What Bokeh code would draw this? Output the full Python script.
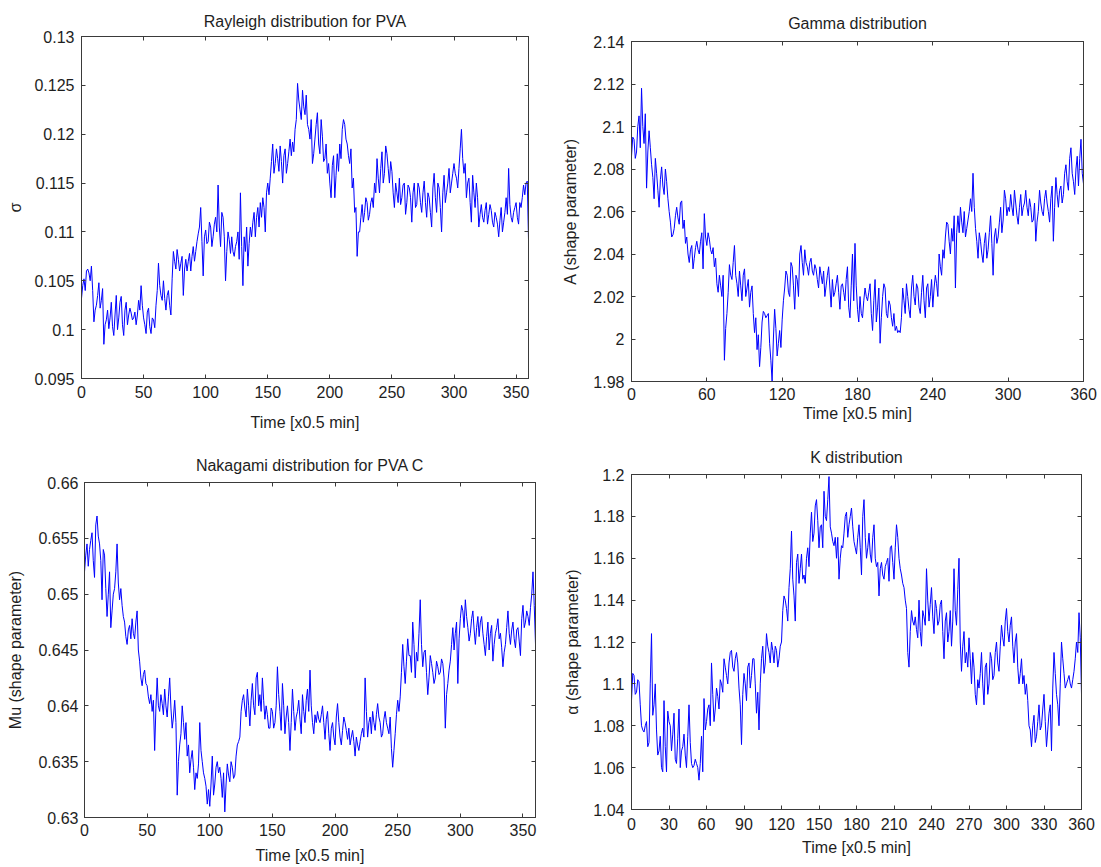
from bokeh.plotting import figure
from bokeh.layouts import column, row
from bokeh.models import Range1d, FixedTicker, LinearAxis
from bokeh.embed import file_html
from bokeh.resources import INLINE

# ---------------- data (one value per time step) ----------------
time_x = list(range(0, 361))

rayleigh_sigma = [
    0.1032, 0.1045, 0.1052, 0.1040, 0.1060, 0.1062, 0.1058, 0.1050, 0.1065, 0.1040,
    0.1008, 0.1020, 0.1025, 0.1035, 0.1048, 0.1022, 0.1030, 0.1042, 0.0985, 0.1005,
    0.1010, 0.1020, 0.1001, 0.1012, 0.1028, 0.1003, 0.0994, 0.1015, 0.1035, 0.1000,
    0.1012, 0.1028, 0.1034, 0.1005, 0.0994, 0.1020, 0.1028, 0.1005, 0.1015, 0.1022,
    0.1017, 0.1010, 0.1012, 0.1018, 0.1005, 0.1015, 0.1030, 0.1020, 0.1045, 0.1025,
    0.1012, 0.1005, 0.0996, 0.1018, 0.1022, 0.1003, 0.0996, 0.1012, 0.1010, 0.1002,
    0.1025, 0.1040, 0.1068, 0.1045, 0.1035, 0.1030, 0.1050, 0.1032, 0.1020, 0.1035,
    0.1040, 0.1025, 0.1015, 0.1052, 0.1080, 0.1070, 0.1062, 0.1082, 0.1072, 0.1060,
    0.1068, 0.1075, 0.1035, 0.1062, 0.1072, 0.1060, 0.1070, 0.1078, 0.1060, 0.1075,
    0.1085, 0.1070, 0.1080, 0.1090, 0.1098, 0.1105, 0.1125, 0.1090, 0.1055, 0.1095,
    0.1102, 0.1088, 0.1090, 0.1110, 0.1105, 0.1085, 0.1095, 0.1108, 0.1115, 0.1100,
    0.1148, 0.1105, 0.1085, 0.1120, 0.1115, 0.1095, 0.1050, 0.1080, 0.1100, 0.1092,
    0.1078, 0.1095, 0.1080, 0.1075, 0.1085, 0.1090, 0.1100, 0.1072, 0.1140, 0.1085,
    0.1045, 0.1095, 0.1080, 0.1105, 0.1065, 0.1088, 0.1105, 0.1095, 0.1110, 0.1120,
    0.1095, 0.1115, 0.1125, 0.1105, 0.1130, 0.1115, 0.1135, 0.1125, 0.1100, 0.1140,
    0.1150, 0.1138, 0.1155, 0.1172, 0.1190, 0.1160, 0.1170, 0.1185, 0.1175, 0.1162,
    0.1188, 0.1172, 0.1150, 0.1178, 0.1185, 0.1160, 0.1170, 0.1182, 0.1195, 0.1178,
    0.1192, 0.1182, 0.1205, 0.1215, 0.1252, 0.1235, 0.1225, 0.1215, 0.1245, 0.1228,
    0.1220, 0.1240, 0.1210, 0.1205, 0.1195, 0.1215, 0.1170, 0.1180, 0.1195, 0.1210,
    0.1222, 0.1190, 0.1180, 0.1215, 0.1198, 0.1172, 0.1175, 0.1190, 0.1160, 0.1170,
    0.1150, 0.1135, 0.1168, 0.1178, 0.1135, 0.1158, 0.1180, 0.1162, 0.1190, 0.1175,
    0.1205, 0.1215, 0.1210, 0.1195, 0.1190, 0.1178, 0.1170, 0.1185, 0.1145, 0.1155,
    0.1120, 0.1125, 0.1075, 0.1100, 0.1100, 0.1115, 0.1128, 0.1110, 0.1120, 0.1135,
    0.1130, 0.1112, 0.1118, 0.1130, 0.1135, 0.1125, 0.1150, 0.1140, 0.1175, 0.1155,
    0.1140, 0.1165, 0.1182, 0.1150, 0.1160, 0.1188, 0.1180, 0.1165, 0.1150, 0.1172,
    0.1162, 0.1140, 0.1125, 0.1150, 0.1140, 0.1130, 0.1155, 0.1128, 0.1135, 0.1148,
    0.1150, 0.1118, 0.1130, 0.1148, 0.1145, 0.1135, 0.1110, 0.1140, 0.1150, 0.1125,
    0.1128, 0.1150, 0.1145, 0.1130, 0.1120, 0.1140, 0.1152, 0.1130, 0.1115, 0.1140,
    0.1135, 0.1120, 0.1105, 0.1145, 0.1160, 0.1135, 0.1120, 0.1150, 0.1145, 0.1125,
    0.1100, 0.1140, 0.1158, 0.1130, 0.1140, 0.1150, 0.1165, 0.1140, 0.1150, 0.1160,
    0.1170, 0.1160, 0.1155, 0.1145, 0.1165, 0.1185, 0.1205, 0.1175, 0.1160, 0.1170,
    0.1135, 0.1150, 0.1155, 0.1130, 0.1110, 0.1158, 0.1140, 0.1125, 0.1150, 0.1135,
    0.1105, 0.1118, 0.1128, 0.1115, 0.1110, 0.1122, 0.1130, 0.1108, 0.1118, 0.1128,
    0.1122, 0.1110, 0.1105, 0.1120, 0.1115, 0.1108, 0.1095, 0.1112, 0.1125, 0.1100,
    0.1110, 0.1120, 0.1135, 0.1118, 0.1165, 0.1128, 0.1115, 0.1110, 0.1120, 0.1125,
    0.1130, 0.1115, 0.1108, 0.1130, 0.1125, 0.1135, 0.1148, 0.1138, 0.1150, 0.1152,
    0.1092,
]

gamma_A = [
    2.086, 2.095, 2.094, 2.085, 2.088, 2.100, 2.105, 2.090, 2.118, 2.100,
    2.092, 2.106, 2.071, 2.088, 2.098, 2.090, 2.082, 2.076, 2.066, 2.085,
    2.078, 2.070, 2.062, 2.075, 2.081, 2.072, 2.068, 2.080, 2.074, 2.066,
    2.060, 2.055, 2.048, 2.049, 2.052, 2.058, 2.062, 2.057, 2.054, 2.064,
    2.065, 2.052, 2.056, 2.045, 2.048, 2.040, 2.036, 2.042, 2.044, 2.033,
    2.038, 2.043, 2.046, 2.042, 2.040, 2.046, 2.050, 2.033, 2.059, 2.048,
    2.044, 2.050, 2.047, 2.042, 2.040, 2.043, 2.034, 2.038, 2.026, 2.022,
    2.030, 2.025, 2.020, 2.030, 1.990, 2.005, 2.012, 2.022, 2.035, 2.030,
    2.028, 2.036, 2.044, 2.030, 2.026, 2.020, 2.032, 2.025, 2.018, 2.030,
    2.033, 2.020, 2.024, 2.028, 2.015, 2.022, 2.025, 2.012, 2.003, 2.010,
    1.995, 2.002, 1.987, 1.996, 2.008, 2.013, 2.012, 2.010, 2.011, 2.012,
    1.998, 1.990, 1.980, 2.000, 2.014, 2.005, 1.992, 1.998, 2.004, 1.996,
    2.009, 2.018, 2.024, 2.032, 2.030, 2.022, 2.020, 2.036, 2.034, 2.025,
    2.014, 2.030, 2.028, 2.020, 2.040, 2.044, 2.036, 2.030, 2.042, 2.036,
    2.034, 2.030, 2.036, 2.038, 2.032, 2.030, 2.035, 2.033, 2.028, 2.024,
    2.034, 2.030, 2.026, 2.032, 2.020, 2.025, 2.030, 2.034, 2.024, 2.015,
    2.028, 2.020, 2.022, 2.026, 2.030, 2.022, 2.014, 2.025, 2.026, 2.022,
    2.018, 2.028, 2.034, 2.015, 2.010, 2.025, 2.040, 2.018, 2.045, 2.025,
    2.014, 2.008, 2.020, 2.012, 2.010, 2.018, 2.024, 2.020, 2.018, 2.022,
    2.026, 2.012, 2.004, 2.018, 2.028, 2.008, 2.015, 2.024, 1.998, 2.010,
    2.020, 2.026, 2.024, 2.012, 2.010, 2.018, 2.016, 2.010, 2.006, 2.012,
    2.004, 2.006, 2.003, 2.004, 2.003, 2.010, 2.024, 2.018, 2.012, 2.026,
    2.020, 2.014, 2.010, 2.024, 2.030, 2.020, 2.016, 2.026, 2.024, 2.015,
    2.012, 2.022, 2.030, 2.018, 2.010, 2.024, 2.026, 2.015, 2.020, 2.028,
    2.015, 2.024, 2.030, 2.026, 2.020, 2.040, 2.034, 2.030, 2.042, 2.038,
    2.048, 2.055, 2.054, 2.046, 2.040, 2.052, 2.046, 2.058, 2.024, 2.050,
    2.058, 2.050, 2.062, 2.055, 2.050, 2.060, 2.048, 2.052, 2.056, 2.060,
    2.066, 2.060, 2.078, 2.062, 2.052, 2.046, 2.038, 2.050, 2.046, 2.040,
    2.036, 2.045, 2.050, 2.038, 2.042, 2.050, 2.058, 2.045, 2.030, 2.048,
    2.052, 2.045, 2.048, 2.055, 2.062, 2.050, 2.056, 2.070, 2.066, 2.058,
    2.062, 2.060, 2.068, 2.062, 2.058, 2.070, 2.064, 2.058, 2.054, 2.062,
    2.068, 2.058, 2.062, 2.064, 2.070, 2.062, 2.058, 2.066, 2.062, 2.055,
    2.056, 2.064, 2.046, 2.055, 2.060, 2.070, 2.064, 2.060, 2.058, 2.066,
    2.070, 2.064, 2.060, 2.055, 2.066, 2.072, 2.046, 2.062, 2.076, 2.068,
    2.062, 2.070, 2.072, 2.064, 2.068, 2.078, 2.082, 2.074, 2.070, 2.085,
    2.090, 2.078, 2.074, 2.068, 2.080, 2.086, 2.072, 2.085, 2.094, 2.078,
    2.073,
]

nakagami_mu = [
    0.6520, 0.6535, 0.6545, 0.6525, 0.6540, 0.6548, 0.6555, 0.6530, 0.6515, 0.6562,
    0.6570, 0.6552, 0.6545, 0.6530, 0.6495, 0.6540, 0.6535, 0.6505, 0.6480, 0.6500,
    0.6520, 0.6470, 0.6485, 0.6500, 0.6505, 0.6520, 0.6545, 0.6510, 0.6495, 0.6505,
    0.6490, 0.6480, 0.6475, 0.6462, 0.6455, 0.6468, 0.6472, 0.6460, 0.6478, 0.6465,
    0.6460, 0.6475, 0.6485, 0.6450, 0.6440, 0.6425, 0.6418, 0.6428, 0.6432, 0.6420,
    0.6418, 0.6408, 0.6402, 0.6410, 0.6395, 0.6405, 0.6360, 0.6398, 0.6425, 0.6400,
    0.6395, 0.6410, 0.6402, 0.6392, 0.6415, 0.6400, 0.6390, 0.6408, 0.6425, 0.6398,
    0.6380, 0.6390, 0.6405, 0.6385, 0.6320, 0.6350, 0.6365, 0.6375, 0.6400, 0.6385,
    0.6370, 0.6385, 0.6355, 0.6365, 0.6340, 0.6352, 0.6360, 0.6345, 0.6325, 0.6340,
    0.6335, 0.6348, 0.6385, 0.6360, 0.6350, 0.6340, 0.6335, 0.6328, 0.6312, 0.6325,
    0.6310, 0.6330, 0.6355, 0.6320, 0.6330, 0.6345, 0.6350, 0.6340, 0.6345, 0.6335,
    0.6318, 0.6340, 0.6305, 0.6330, 0.6348, 0.6338, 0.6332, 0.6350, 0.6345, 0.6335,
    0.6338, 0.6355, 0.6365, 0.6368, 0.6372, 0.6395, 0.6405, 0.6410, 0.6398, 0.6390,
    0.6415, 0.6400, 0.6382, 0.6405, 0.6420, 0.6400, 0.6392, 0.6425, 0.6430, 0.6400,
    0.6410, 0.6395, 0.6425, 0.6405, 0.6388, 0.6400, 0.6392, 0.6380, 0.6380, 0.6398,
    0.6395, 0.6380, 0.6385, 0.6400, 0.6435, 0.6410, 0.6395, 0.6378, 0.6420, 0.6400,
    0.6375, 0.6390, 0.6400, 0.6385, 0.6360, 0.6385, 0.6415, 0.6395, 0.6378, 0.6390,
    0.6395, 0.6405, 0.6388, 0.6375, 0.6410, 0.6395, 0.6385, 0.6405, 0.6415, 0.6395,
    0.6432, 0.6400, 0.6385, 0.6375, 0.6392, 0.6385, 0.6395, 0.6388, 0.6385, 0.6392,
    0.6400, 0.6385, 0.6370, 0.6388, 0.6395, 0.6375, 0.6360, 0.6380, 0.6385, 0.6372,
    0.6365, 0.6390, 0.6402, 0.6385, 0.6372, 0.6365, 0.6378, 0.6390, 0.6385, 0.6378,
    0.6370, 0.6380, 0.6365, 0.6372, 0.6378, 0.6368, 0.6355, 0.6372, 0.6365, 0.6360,
    0.6368, 0.6375, 0.6380, 0.6372, 0.6425, 0.6395, 0.6372, 0.6385, 0.6390, 0.6375,
    0.6395, 0.6385, 0.6378, 0.6392, 0.6402, 0.6390, 0.6385, 0.6372, 0.6375, 0.6388,
    0.6395, 0.6385, 0.6380, 0.6375, 0.6390, 0.6362, 0.6345, 0.6360, 0.6375, 0.6392,
    0.6405, 0.6395, 0.6408, 0.6430, 0.6455, 0.6435, 0.6420, 0.6440, 0.6460, 0.6445,
    0.6445, 0.6430, 0.6475, 0.6455, 0.6425, 0.6448, 0.6440, 0.6465, 0.6495, 0.6455,
    0.6435, 0.6448, 0.6450, 0.6430, 0.6410, 0.6425, 0.6445, 0.6438, 0.6430, 0.6420,
    0.6425, 0.6440, 0.6435, 0.6428, 0.6430, 0.6442, 0.6438, 0.6425, 0.6380, 0.6410,
    0.6420, 0.6432, 0.6440, 0.6455, 0.6470, 0.6450, 0.6465, 0.6475, 0.6420, 0.6460,
    0.6478, 0.6490, 0.6485, 0.6470, 0.6495, 0.6480, 0.6470, 0.6458, 0.6465, 0.6478,
    0.6485, 0.6468, 0.6455, 0.6470, 0.6480, 0.6462, 0.6475, 0.6480, 0.6465, 0.6455,
    0.6445, 0.6462, 0.6475, 0.6450, 0.6465, 0.6472, 0.6440, 0.6455, 0.6465, 0.6470,
    0.6478, 0.6460, 0.6465, 0.6452, 0.6435, 0.6448, 0.6455, 0.6470, 0.6485, 0.6465,
    0.6455, 0.6468, 0.6475, 0.6460, 0.6452, 0.6468, 0.6470, 0.6458, 0.6445, 0.6478,
    0.6490, 0.6470, 0.6475, 0.6485, 0.6480, 0.6472, 0.6488, 0.6500, 0.6520, 0.6490,
    0.6455,
]

k_alpha = [
    1.092, 1.105, 1.104, 1.095, 1.096, 1.102, 1.101, 1.090, 1.080, 1.078,
    1.077, 1.080, 1.082, 1.070, 1.072, 1.100, 1.124, 1.085, 1.090, 1.100,
    1.078, 1.066, 1.068, 1.075, 1.060, 1.058, 1.092, 1.070, 1.058, 1.087,
    1.082, 1.080, 1.068, 1.076, 1.086, 1.064, 1.062, 1.074, 1.088, 1.060,
    1.068, 1.070, 1.076, 1.066, 1.060, 1.075, 1.090, 1.072, 1.062, 1.060,
    1.061, 1.064, 1.062, 1.060, 1.054, 1.062, 1.075, 1.058, 1.093, 1.078,
    1.082, 1.088, 1.090, 1.080, 1.110, 1.095, 1.082, 1.088, 1.098, 1.094,
    1.088, 1.102, 1.100, 1.096, 1.112, 1.108, 1.104, 1.100, 1.110, 1.115,
    1.116, 1.108, 1.106, 1.112, 1.115, 1.110, 1.098, 1.090, 1.071, 1.095,
    1.105, 1.100, 1.092, 1.108, 1.110, 1.098, 1.104, 1.112, 1.112, 1.100,
    1.086, 1.096, 1.078, 1.100, 1.112, 1.118, 1.105, 1.110, 1.124, 1.118,
    1.115, 1.110, 1.120, 1.116, 1.110, 1.118, 1.116, 1.108, 1.112, 1.118,
    1.120, 1.135, 1.142, 1.140, 1.136, 1.130, 1.146, 1.155, 1.173, 1.150,
    1.142, 1.130, 1.158, 1.162, 1.148, 1.155, 1.162, 1.150, 1.152, 1.148,
    1.160, 1.165, 1.156, 1.172, 1.182, 1.168, 1.172, 1.185, 1.188, 1.178,
    1.165, 1.175, 1.176, 1.165, 1.192, 1.180, 1.178, 1.188, 1.199, 1.175,
    1.172, 1.168, 1.166, 1.170, 1.160, 1.170, 1.150, 1.160, 1.166, 1.165,
    1.172, 1.180, 1.182, 1.170, 1.176, 1.180, 1.184, 1.175, 1.168, 1.165,
    1.162, 1.170, 1.176, 1.165, 1.152, 1.180, 1.188, 1.170, 1.160, 1.165,
    1.172, 1.162, 1.158, 1.170, 1.176, 1.160, 1.156, 1.158, 1.142, 1.155,
    1.158, 1.152, 1.150, 1.156, 1.158, 1.160, 1.149, 1.165, 1.166, 1.158,
    1.150, 1.165, 1.176, 1.170, 1.160, 1.155, 1.152, 1.148, 1.146, 1.140,
    1.136, 1.115, 1.108, 1.125, 1.135, 1.130, 1.128, 1.132, 1.126, 1.122,
    1.140, 1.125, 1.118, 1.135, 1.132, 1.128, 1.155, 1.140, 1.130, 1.138,
    1.146, 1.132, 1.124, 1.140, 1.136, 1.128, 1.130, 1.138, 1.140, 1.125,
    1.112, 1.130, 1.134, 1.120, 1.125, 1.135, 1.118, 1.130, 1.155, 1.135,
    1.128, 1.145, 1.160, 1.120, 1.106, 1.118, 1.125, 1.110, 1.115, 1.108,
    1.122, 1.112, 1.100, 1.115, 1.108, 1.095, 1.090, 1.102, 1.098, 1.105,
    1.115, 1.100, 1.090, 1.108, 1.110, 1.095, 1.100, 1.115, 1.112, 1.102,
    1.104, 1.115, 1.120, 1.110, 1.106, 1.118, 1.128, 1.122, 1.118, 1.130,
    1.136, 1.125, 1.120, 1.128, 1.132, 1.118, 1.110, 1.120, 1.124, 1.108,
    1.100, 1.105, 1.112, 1.100, 1.104, 1.095, 1.100, 1.092, 1.080, 1.078,
    1.070, 1.080, 1.085, 1.072, 1.075, 1.082, 1.090, 1.078, 1.080, 1.088,
    1.095, 1.082, 1.070, 1.078, 1.086, 1.090, 1.068, 1.098, 1.115, 1.105,
    1.095, 1.090, 1.080, 1.100, 1.120, 1.112, 1.105, 1.098, 1.100, 1.102,
    1.104, 1.100, 1.098, 1.102, 1.106, 1.112, 1.120, 1.115, 1.134, 1.122,
    1.095,
]

# tick values and tick labels
x_ticks_50 = [0, 50, 100, 150, 200, 250, 300, 350]
x_labels_50 = ["0", "50", "100", "150", "200", "250", "300", "350"]
x_ticks_60 = [0, 60, 120, 180, 240, 300, 360]
x_labels_60 = ["0", "60", "120", "180", "240", "300", "360"]
x_ticks_30 = [0, 30, 60, 90, 120, 150, 180, 210, 240, 270, 300, 330, 360]
x_labels_30 = ["0", "30", "60", "90", "120", "150", "180", "210", "240", "270", "300", "330", "360"]

y_ticks_rayleigh = [0.095, 0.1, 0.105, 0.11, 0.115, 0.12, 0.125, 0.13]
y_labels_rayleigh = ["0.095", "0.1", "0.105", "0.11", "0.115", "0.12", "0.125", "0.13"]
y_ticks_gamma = [1.98, 2.0, 2.02, 2.04, 2.06, 2.08, 2.1, 2.12, 2.14]
y_labels_gamma = ["1.98", "2", "2.02", "2.04", "2.06", "2.08", "2.1", "2.12", "2.14"]
y_ticks_nakagami = [0.63, 0.635, 0.64, 0.645, 0.65, 0.655, 0.66]
y_labels_nakagami = ["0.63", "0.635", "0.64", "0.645", "0.65", "0.655", "0.66"]
y_ticks_k = [1.04, 1.06, 1.08, 1.1, 1.12, 1.14, 1.16, 1.18, 1.2]
y_labels_k = ["1.04", "1.06", "1.08", "1.1", "1.12", "1.14", "1.16", "1.18", "1.2"]

FONT = "Liberation Sans"
TXT = "#1e1e1e"
AX = "#3a3a3a"


def style_axis(ax, ticks, labels, show_labels=True):
    ax.ticker = FixedTicker(ticks=ticks)
    ax.major_tick_in = 4
    ax.major_tick_out = 0
    ax.minor_tick_in = 0
    ax.minor_tick_out = 0
    ax.major_tick_line_color = AX
    ax.axis_line_color = AX
    ax.major_label_text_font = FONT
    ax.axis_label_text_font = FONT
    ax.axis_label_text_font_style = "normal"
    ax.axis_label_text_color = TXT
    ax.axis_label_text_font_size = "16px"
    if show_labels:
        ax.major_label_overrides = {t: l for t, l in zip(ticks, labels)}
        ax.major_label_text_font_size = "16px"
        ax.major_label_text_color = TXT
    else:
        ax.major_label_text_font_size = "1px"
        ax.major_label_text_color = None
        ax.major_label_text_alpha = 0
        ax.major_label_standoff = 0


def panel(title, ylabel, yvals, yrange, xt, xl, yt, yl, w, h, bl, br, bt, bb,
          x_std, x_lab_std, y_std, y_lab_std, t_std):
    p = figure(width=w, height=h, x_range=Range1d(0, 360), y_range=Range1d(*yrange),
               output_backend="svg", toolbar_location=None,
               min_border_left=bl, min_border_right=br,
               min_border_top=bt, min_border_bottom=bb,
               x_axis_label="Time [x0.5 min]", y_axis_label=ylabel)
    p.title.text = title
    p.title.align = "center"
    p.title.text_font = FONT
    p.title.text_font_size = "16px"
    p.title.text_font_style = "normal"
    p.title.text_color = TXT
    p.title.standoff = t_std
    p.grid.visible = False
    p.outline_line_color = AX
    p.outline_line_alpha = 1.0
    p.background_fill_color = "white"
    p.border_fill_color = "white"
    style_axis(p.xaxis[0], xt, xl)
    style_axis(p.yaxis[0], yt, yl)
    p.xaxis[0].major_label_standoff = x_std
    p.xaxis[0].axis_label_standoff = x_lab_std
    p.yaxis[0].major_label_standoff = y_std
    p.yaxis[0].axis_label_standoff = y_lab_std
    top = LinearAxis()
    style_axis(top, xt, xl, show_labels=False)
    p.add_layout(top, "above")
    right = LinearAxis()
    style_axis(right, yt, yl, show_labels=False)
    p.add_layout(right, "right")
    p.line(time_x, yvals, line_color="#0000ff", line_width=1)
    return p


# positions: the page is rendered with zero body margin by Bokeh's template
p1 = panel("Rayleigh distribution for PVA", "σ", rayleigh_sigma, (0.095, 0.13),
           x_ticks_50, x_labels_50, y_ticks_rayleigh, y_labels_rayleigh,
           550, 437, 81, 22, 36, 59, 7, 13, 7, 7, 14)
p2 = panel("Gamma distribution", "A (shape parameter)", gamma_A, (1.98, 2.14),
           x_ticks_60, x_labels_60, y_ticks_gamma, y_labels_gamma,
           550, 437, 81, 17, 41, 56, 6, 2, 7, 11, 19)
p3 = panel("Nakagami distribution for PVA C", "Mu (shape parameter)", nakagami_mu, (0.63, 0.66),
           x_ticks_50, x_labels_50, y_ticks_nakagami, y_labels_nakagami,
           550, 429, 84, 15, 45, 47, 6, 8, 6, 11, 17)
p4 = panel("K distribution", "α (shape parameter)", k_alpha, (1.04, 1.2),
           x_ticks_30, x_labels_30, y_ticks_k, y_labels_k,
           550, 429, 81, 19, 34, 57, 8, 6, 7, 9, 18)

layout = column(row(column(p1), column(p2)), row(column(p3), column(p4)))
open("out.html", "w").write(file_html(layout, INLINE))
